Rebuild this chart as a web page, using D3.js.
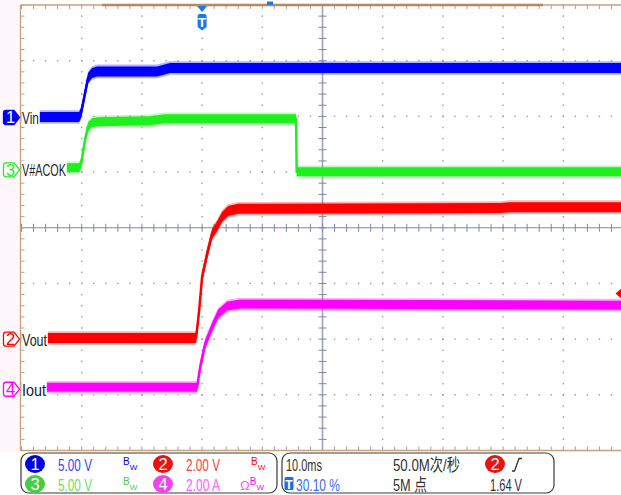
<!DOCTYPE html>
<html><head><meta charset="utf-8">
<script src="https://cdn.jsdelivr.net/npm/d3@7"></script>
<style>
body{margin:0;background:#fff;}
svg{display:block;font-family:"Liberation Sans","Noto Sans CJK SC",sans-serif;}
</style></head><body>
<svg id="scope" width="621" height="495"></svg>
<script>
// time in ms (trigger at 0), values in each channel's own unit
var vinT = [-30, -20.43, -20.1, -19.44, -18.94, -18.27, -17.44, -7.48, -5.3, 70];
var vinV = [0.05, 0.05, 0.40, 2.2, 3.55, 4.0, 4.14, 4.14, 4.45, 4.45];
var acokT = [-30, -20.43, -20.1, -19.44, -18.94, -18.27, -17.44, -8.65, -6.16, 15.61, 15.71, 70];
var acokV = [0.18, 0.18, 0.54, 2.7, 3.87, 4.23, 4.32, 4.4, 4.58, 4.58, -0.18, -0.18];
var voutT = [-30, -1.0, -0.5, 0, 0.83, 1.66, 2.49, 3.32, 4.32, 5.98, 49.5, 51.2, 70];
var voutV = [0.04, 0.04, 1.01, 2.23, 3.06, 3.78, 4.05, 4.39, 4.6, 4.68, 4.71, 4.74, 4.74];
var ioutT = [-30, -0.83, -0.33, 0.5, 1.66, 2.66, 4.15, 6.31, 70];
var ioutA = [0.07, 0.07, 0.79, 1.62, 2.23, 2.7, 2.99, 3.06, 3.02];

var chNames = ["Vin", "Vout", "V#ACOK", "Iout"];
var chScale = [5, 2, 5, 2];          // units per division
var chUnit = ["V", "V", "V", "A"];
var chOffset = [1.98, -2.0, 1.04, -2.9]; // divisions from centre
var chColor = ["#0000ff", "#ff0000", "#1ef01e", "#ff00ff"];
var chText = ["#3c3cff", "#ff3c3c", "#6ade6a", "#ff5cff"];
var chBadge = ["#0000e6", "#ee1111", "#44cc44", "#ee44ee"];

var timeBase = "10.0ms", sampleRate = "50.0M次/秒", trigPos = "30.10 %",
    recLen = "5M 点", trigLevel = "1.64 V", trigCh = 2;

var svg = d3.select("#scope");
var W = 621, H = 495;
var pL = 20.5, pT = 5, pB = 450.5;

var x = d3.scaleLinear().domain([-30, 70]).range([21.5, 623.5]);
var yDiv = d3.scaleLinear().domain([-4, 4]).range([pB, pT]);
var minorX = (x(10) - x(0)) / 5, minorY = (yDiv(0) - yDiv(1)) / 5;

svg.append("rect").attr("width", W).attr("height", H).attr("fill", "#fff");
svg.append("rect").attr("width", pL).attr("height", pB + 2).attr("fill", "#fdf6fb");

// grid dots
var grid = svg.append("g").attr("fill", "#9098bb");
d3.range(-20, 71, 10).forEach(function(t) {
  if (t === 20) return;
  d3.range(0, 41).forEach(function(k) {
    grid.append("rect").attr("x", x(t) - 0.7).attr("y", pT + k * minorY - 0.7)
      .attr("width", 1.4).attr("height", 1.4);
  });
});
d3.range(-3, 4).forEach(function(d) {
  if (d === 0) return;
  d3.range(0, 51).forEach(function(k) {
    grid.append("rect").attr("x", 21.5 + k * minorX - 0.7).attr("y", yDiv(d) - 0.7)
      .attr("width", 1.4).attr("height", 1.4);
  });
});

// centre cross with ticks
var cross = svg.append("g").attr("stroke", "#7d89ab").attr("stroke-width", 1);
cross.append("line").attr("x1", pL).attr("x2", W).attr("y1", yDiv(0)).attr("y2", yDiv(0));
cross.append("line").attr("x1", x(20)).attr("x2", x(20)).attr("y1", pT).attr("y2", pB)
  .attr("stroke", "#9aa3c0").attr("stroke-width", 1.6);
d3.range(0, 51).forEach(function(k) {
  var px = 21.5 + k * minorX;
  cross.append("line").attr("x1", px).attr("x2", px).attr("y1", yDiv(0) - 4).attr("y2", yDiv(0) + 4);
  svg.append("line").attr("x1", px).attr("x2", px).attr("y1", pT).attr("y2", pT + 4)
    .attr("stroke", "#9aa0b8");
  svg.append("line").attr("x1", px).attr("x2", px).attr("y1", pB - 4).attr("y2", pB)
    .attr("stroke", "#9aa0b8");
});
d3.range(0, 41).forEach(function(k) {
  var py = pT + k * minorY;
  cross.append("line").attr("x1", x(20) - 4).attr("x2", x(20) + 4).attr("y1", py).attr("y2", py);
  svg.append("line").attr("x1", pL).attr("x2", pL + 4).attr("y1", py).attr("y2", py)
    .attr("stroke", "#a0a6bd");
});

// traces
svg.append("clipPath").attr("id", "plot").append("rect")
  .attr("x", pL).attr("y", pT).attr("width", W - pL).attr("height", pB - pT);
var traces = [
  {ch: 0, t: vinT, v: vinV, h: 5},
  {ch: 2, t: acokT, v: acokV, h: 4.5},
  {ch: 1, t: voutT, v: voutV, h: 5},
  {ch: 3, t: ioutT, v: ioutA, h: 4.5}
];
var tg = svg.append("g").attr("clip-path", "url(#plot)");
traces.forEach(function(tr) {
  var pts = tr.t.map(function(t, i) { return [t, tr.v[i]]; });
  var yy = function(d) { return yDiv(chOffset[tr.ch] + d[1] / chScale[tr.ch]); };
  var c = chColor[tr.ch];
  tg.append("path").datum(pts).attr("fill", c).attr("opacity", 0.3)
    .attr("d", d3.area().x(function(d) { return x(d[0]); })
      .y0(function(d) { return yy(d) + tr.h + 1.8; }).y1(function(d) { return yy(d) - tr.h - 1.8; }));
  tg.append("path").datum(pts).attr("fill", c)
    .attr("d", d3.area().x(function(d) { return x(d[0]); })
      .y0(function(d) { return yy(d) + tr.h; }).y1(function(d) { return yy(d) - tr.h; }));
  tg.append("path").datum(pts).attr("fill", "none").attr("stroke", c).attr("stroke-width", 2.5)
    .attr("d", d3.line().x(function(d) { return x(d[0]); }).y(yy));
});

// channel labels inside the plot
var labelW = [17, 25, 44, 24];
chNames.forEach(function(n, i) {
  var cy = yDiv(chOffset[i]);
  svg.append("rect").attr("x", pL + 0.8).attr("y", cy - 9).attr("width", labelW[i] + 1.5)
    .attr("height", 18).attr("fill", "#fff");
  svg.append("text").attr("x", 22).attr("y", cy + 6.5).attr("font-size", 16.5)
    .attr("fill", "#222").attr("textLength", labelW[i]).attr("lengthAdjust", "spacingAndGlyphs")
    .text(n);
});

// borders
svg.append("line").attr("x1", pL).attr("x2", W).attr("y1", pT).attr("y2", pT)
  .attr("stroke", "#c9a27a").attr("stroke-width", 1.5);
svg.append("line").attr("x1", 102).attr("x2", 543).attr("y1", pT).attr("y2", pT)
  .attr("stroke", "#b9895e").attr("stroke-width", 2.6);
svg.append("line").attr("x1", pL).attr("x2", pL).attr("y1", pT).attr("y2", pB)
  .attr("stroke", "#c9a27a").attr("stroke-width", 1.3);
svg.append("line").attr("x1", pL).attr("x2", W).attr("y1", pB).attr("y2", pB)
  .attr("stroke", "#c9a27a").attr("stroke-width", 1.3);

// channel markers on the left edge
[0, 2, 1, 3].forEach(function(i) {
  var cy = yDiv(chOffset[i]);
  var filled = i === 0;
  svg.append("path")
    .attr("d", "M6," + (cy - 7) + "H14L19.5," + cy + "L14," + (cy + 7) + "H6Q3.5," + (cy + 7) +
      " 3.5," + (cy + 4.5) + "V" + (cy - 4.5) + "Q3.5," + (cy - 7) + " 6," + (cy - 7) + "Z")
    .attr("fill", filled ? chColor[i] : "#fff").attr("stroke", chColor[i]).attr("stroke-width", 1.3);
  svg.append("text").attr("x", 10.5).attr("y", cy + 6).attr("text-anchor", "middle")
    .attr("font-size", 16.5).attr("fill", filled ? "#fff" : chColor[i]).text(i + 1);
});

// trigger position marker
var tx = x(0);
svg.append("path").attr("d", "M" + (tx - 5) + ",6H" + (tx + 5) + "L" + tx + ",12Z").attr("fill", "#1e78e6");
svg.append("path")
  .attr("d", "M" + (tx - 4.5) + ",16Q" + (tx - 4.5) + ",14 " + (tx - 2.5) + ",14H" + (tx + 2.5) + "Q" + (tx + 4.5) +
    ",14 " + (tx + 4.5) + ",16V27L" + tx + ",30.5L" + (tx - 4.5) + ",27Z")
  .attr("fill", "#1e78e6");
svg.append("text").attr("x", tx).attr("y", 27).attr("text-anchor", "middle").attr("font-size", 13)
  .attr("font-weight", "bold").attr("fill", "#fff").text("T");
svg.append("rect").attr("x", 267).attr("y", 1.5).attr("width", 6).attr("height", 3.5).attr("fill", "#1e78e6");

// trigger level arrow for ch2
var ly = yDiv(chOffset[trigCh - 1] + 1.64 / chScale[trigCh - 1]);
svg.append("path").attr("d", "M615.5," + ly + "L623," + (ly - 6.5) + "V" + (ly + 6.5) + "Z")
  .attr("fill", chColor[trigCh - 1]);

// status bar
var sb = svg.append("g");
sb.append("rect").attr("x", 21).attr("y", 453).attr("width", 256).attr("height", 40).attr("rx", 8)
  .attr("fill", "#fff").attr("stroke", "#3a3a3a").attr("stroke-width", 1.2);
sb.append("rect").attr("x", 282).attr("y", 453).attr("width", 272).attr("height", 40).attr("rx", 8)
  .attr("fill", "#fff").attr("stroke", "#3a3a3a").attr("stroke-width", 1.2);

// ch1, ch2 on the top row; ch3, ch4 below
var slots = [[35, 464], [163, 464], [35, 484], [163, 484]];
var bwColor = ["#0000ff", "#ff0000", "#44cc44", "#ff00ff"];
[0, 1, 2, 3].forEach(function(i) {
  var s = slots[i];
  sb.append("ellipse").attr("cx", s[0]).attr("cy", s[1]).attr("rx", 10).attr("ry", 9)
    .attr("fill", chBadge[i]);
  sb.append("text").attr("x", s[0]).attr("y", s[1] + 6).attr("text-anchor", "middle")
    .attr("font-size", 16.5).attr("fill", "#fff").text(i + 1);
  sb.append("text").attr("x", s[0] + 23).attr("y", s[1] + 6.5).attr("font-size", 17)
    .attr("fill", chText[i]).attr("textLength", 34).attr("lengthAdjust", "spacingAndGlyphs")
    .text(chScale[i].toFixed(2) + " " + chUnit[i]);
  // bandwidth-limit mark (and impedance mark on ch4)
  var bw = sb.append("text").attr("x", s[0] + (i === 3 ? 77 : 88)).attr("y", s[1] + 1)
    .attr("fill", bwColor[i]);
  if (i === 3) bw.append("tspan").attr("font-size", 13).attr("dy", 4.5).attr("fill", chText[i]).text("Ω");
  bw.append("tspan").attr("font-size", 10).attr("dy", i === 3 ? -4.5 : 0).text("B");
  bw.append("tspan").attr("font-size", 8).attr("dy", 4.5).text("W");
});

sb.append("text").attr("x", 286).attr("y", 470.5).attr("font-size", 17).attr("fill", "#333")
  .attr("textLength", 36).attr("lengthAdjust", "spacingAndGlyphs").text(timeBase);
sb.append("text").attr("x", 393).attr("y", 470.5).attr("font-size", 17).attr("fill", "#333")
  .attr("textLength", 67).attr("lengthAdjust", "spacingAndGlyphs").text(sampleRate);
sb.append("ellipse").attr("cx", 495).attr("cy", 464).attr("rx", 10).attr("ry", 9).attr("fill", chBadge[trigCh - 1]);
sb.append("text").attr("x", 495).attr("y", 470).attr("text-anchor", "middle").attr("font-size", 16.5)
  .attr("fill", "#fff").text(trigCh);
sb.append("path").attr("d", "M512,471H514.5L519,458.5H522").attr("fill", "none")
  .attr("stroke", "#333").attr("stroke-width", 1.3);

sb.append("rect").attr("x", 284.5).attr("y", 477).attr("width", 9).attr("height", 13).attr("rx", 1.5)
  .attr("fill", "#1e6ee6");
sb.append("text").attr("x", 289).attr("y", 488.5).attr("text-anchor", "middle").attr("font-size", 12)
  .attr("font-weight", "bold").attr("fill", "#fff").text("T");
sb.append("text").attr("x", 296).attr("y", 490.5).attr("font-size", 17).attr("fill", "#3d6cf0")
  .attr("textLength", 44).attr("lengthAdjust", "spacingAndGlyphs").text(trigPos);
sb.append("text").attr("x", 393).attr("y", 490.5).attr("font-size", 17).attr("fill", "#333")
  .attr("textLength", 34).attr("lengthAdjust", "spacingAndGlyphs").text(recLen);
sb.append("text").attr("x", 490).attr("y", 490.5).attr("font-size", 17).attr("fill", "#333")
  .attr("textLength", 32).attr("lengthAdjust", "spacingAndGlyphs").text(trigLevel);
</script>
</body></html>
